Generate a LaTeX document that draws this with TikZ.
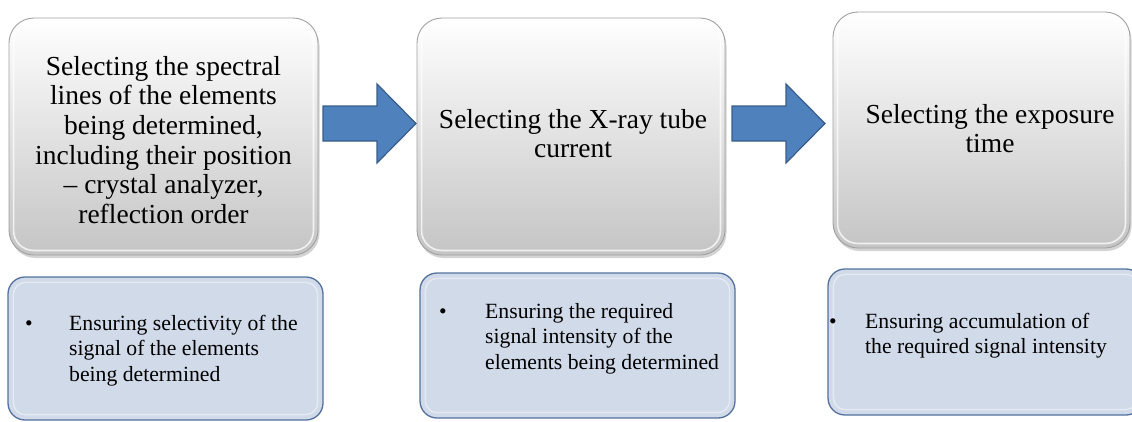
\documentclass[tikz,border=0pt]{standalone}
\usepackage{fontspec}
\setmainfont{Liberation Serif}
\usetikzlibrary{shadows,calc}

\definecolor{arrowfill}{RGB}{79,129,189}
\definecolor{arrowline}{RGB}{56,93,138}
\definecolor{notefill}{RGB}{209,218,233}
\definecolor{noteline}{RGB}{84,113,158}
\definecolor{stepline}{RGB}{160,160,160}

\begin{document}
\begin{tikzpicture}[x=1pt,y=-1pt,
  stepbox/.style={rounded corners=25pt, draw=stepline, line width=0.9pt,
    top color=white, bottom color=black!23,
    drop shadow={shadow xshift=1.5pt, shadow yshift=-3pt, opacity=0.35},
    inner sep=0pt},
  stepbevel/.style={rounded corners=20pt, draw=white, line width=1.6pt, opacity=0.75},
  notebox/.style={rounded corners=17pt, draw=noteline, line width=1.3pt,
    fill=notefill, inner sep=0pt},
  notebevel/.style={rounded corners=12pt, draw=white, line width=1.4pt, opacity=0.45},
  flowarrow/.style={fill=arrowfill, draw=arrowline, line width=1.2pt, line join=miter},
  steptext/.style={inner sep=0pt, anchor=north, align=center,
    font=\fontsize{27.5}{29.6}\selectfont},
  notetext/.style={inner sep=0pt, anchor=north west, align=left,
    font=\fontsize{21.7}{25.4}\selectfont},
  bullet/.style={inner sep=0pt, anchor=base, font=\fontsize{21.7}{25.4}\selectfont}]

\clip (0,0) rectangle (1132,421);

% upper step boxes
\node[stepbox, minimum width=309pt, minimum height=237pt] (s1) at (163.5,136.5) {};
\node[stepbox, minimum width=308pt, minimum height=237pt] (s2) at (571,136.5) {};
\node[stepbox, minimum width=297pt, minimum height=236pt] (s3) at (981.5,130) {};
\foreach \b in {s1,s2,s3}
  \draw[stepbevel] ($(\b.north west)+(5,5)$) rectangle ($(\b.south east)+(-5,-5)$);

% lower note boxes
\node[notebox, minimum width=315pt, minimum height=143pt] (n1) at (165.5,348.5) {};
\node[notebox, minimum width=315pt, minimum height=145pt] (n2) at (577.5,345.5) {};
\node[notebox, minimum width=315pt, minimum height=146pt] (n3) at (985.5,342) {};
\foreach \b in {n1,n2,n3}
  \draw[notebevel] ($(\b.north west)+(6,6)$) rectangle ($(\b.south east)+(-6,-6)$);

% block arrows between the steps
\coordinate (a1) at (323,106);
\coordinate (a2) at (732,106);
\foreach \a in {a1,a2}
  \draw[flowarrow] (\a) -- ++(54,0) -- ++(0,-22) -- ++(39,39.5) -- ++(-39,39.5)
    -- ++(0,-22) -- ++(-54,0) -- cycle;

% step captions
\node[steptext] (t1) at (163.5,53) {\rule{0pt}{22pt}Selecting the spectral\\lines of the elements\\being determined,\\including their position\\– crystal analyzer,\\reflection order};
\node[steptext] (t2) at (573,106) {\rule{0pt}{22pt}Selecting the X-ray tube\\current};
\node[steptext] (t3) at (990,101) {\rule{0pt}{22pt}Selecting the exposure\\time};

% note texts
\node[bullet] (b1) at (29,330) {•};
\node[notetext] (m1) at (69,312) {\rule{0pt}{18pt}Ensuring selectivity of the\\signal of the elements\\being determined};
\node[bullet] (b2) at (443,318) {•};
\node[notetext] (m2) at (485,300) {\rule{0pt}{18pt}Ensuring the required\\signal intensity of the\\elements being determined};
\node[bullet] (b3) at (833,328) {•};
\node[notetext] (m3) at (865,310) {\rule{0pt}{18pt}Ensuring accumulation of\\the required signal intensity};

\end{tikzpicture}
\end{document}
